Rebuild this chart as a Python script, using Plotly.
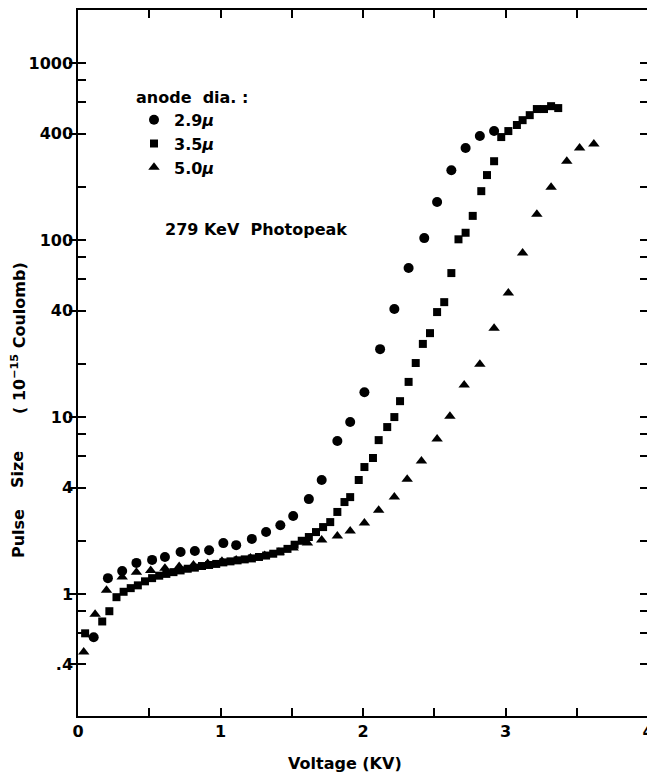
import plotly.graph_objects as go

# ---- data ----
circle_x = [0.11, 0.21, 0.31, 0.41, 0.52, 0.61, 0.72, 0.82, 0.92, 1.02, 1.11, 1.22, 1.32, 1.42,
            1.51, 1.62, 1.71, 1.82, 1.91, 2.01, 2.12, 2.22, 2.32, 2.43, 2.52, 2.62, 2.72, 2.82, 2.92]
circle_y = [0.57, 1.23, 1.35, 1.50, 1.56, 1.62, 1.73, 1.75, 1.77, 1.94, 1.89, 2.05, 2.24, 2.45,
            2.76, 3.44, 4.41, 7.32, 9.37, 13.8, 24.2, 40.8, 69.5, 102.6, 164, 248, 331, 387, 413]

square_x = [0.05, 0.17, 0.22, 0.27, 0.32, 0.37, 0.42, 0.47, 0.52, 0.57, 0.62, 0.67, 0.72, 0.77,
            0.82, 0.87, 0.92, 0.97, 1.02, 1.07, 1.12, 1.17, 1.22, 1.27, 1.32, 1.37, 1.42, 1.47,
            1.52, 1.57, 1.62, 1.67, 1.72, 1.77, 1.82, 1.87, 1.91, 1.97, 2.01, 2.07, 2.11, 2.17,
            2.22, 2.26, 2.32, 2.37, 2.42, 2.47, 2.52, 2.57, 2.62, 2.67, 2.72, 2.77, 2.83, 2.87,
            2.92, 2.97, 3.02, 3.08, 3.12, 3.17, 3.22, 3.27, 3.32, 3.37]
square_y = [0.60, 0.70, 0.80, 0.96, 1.03, 1.08, 1.12, 1.18, 1.23, 1.27, 1.30, 1.33, 1.36, 1.39,
            1.41, 1.44, 1.46, 1.48, 1.51, 1.53, 1.55, 1.57, 1.59, 1.62, 1.65, 1.69, 1.74, 1.80,
            1.90, 2.00, 2.10, 2.24, 2.39, 2.55, 2.91, 3.31, 3.53, 4.41, 5.22, 5.87, 7.41, 8.78,
            10.0, 12.3, 15.8, 20.2, 25.9, 29.8, 39.2, 44.6, 65.1, 101, 110, 137, 189, 233,
            279, 382, 413, 447, 476, 508, 550, 550, 571, 557]

triangle_x = [0.04, 0.12, 0.20, 0.31, 0.41, 0.51, 0.61, 0.71, 0.81, 0.91, 1.01, 1.11, 1.21, 1.31,
              1.41, 1.51, 1.61, 1.71, 1.82, 1.91, 2.01, 2.11, 2.22, 2.31, 2.41, 2.52, 2.61, 2.71,
              2.82, 2.92, 3.02, 3.12, 3.22, 3.32, 3.43, 3.52, 3.62]
triangle_y = [0.47, 0.77, 1.05, 1.25, 1.33, 1.36, 1.40, 1.43, 1.46, 1.49, 1.53, 1.56, 1.60, 1.65,
              1.72, 1.82, 1.94, 2.02, 2.13, 2.27, 2.52, 2.98, 3.53, 4.46, 5.64, 7.51, 10.1, 15.2,
              19.9, 31.8, 50.2, 84.5, 140, 199, 279, 331, 349]

series_names = ["2.9<i>μ</i>", "3.5<i>μ</i>", "5.0<i>μ</i>"]

x_tickvals = [0, 0.5, 1, 1.5, 2, 2.5, 3, 3.5, 4]
x_ticktext = ["0", " ", "1", " ", "2", " ", "3", " ", "4"]
y_tickvals = [0.4, 0.6, 0.8, 1, 2, 4, 6, 8, 10, 20, 40, 60, 80, 100, 200, 400, 600, 800, 1000]
y_ticktext = [".4", " ", " ", "1", " ", "4", " ", " ", "10", " ", "40", " ", " ", "100", " ", "400", " ", " ", "1000"]
y_labeled = [0.4, 1, 4, 10, 40, 100, 400, 1000]

FONT = "DejaVu Sans"

fig = go.Figure()
fig.add_trace(go.Scatter(x=circle_x, y=circle_y, mode="markers", name=series_names[0],
                         marker=dict(symbol="circle", size=10, color="black")))
fig.add_trace(go.Scatter(x=square_x, y=square_y, mode="markers", name=series_names[1],
                         marker=dict(symbol="square", size=8, color="black")))
fig.add_trace(go.Scatter(x=triangle_x, y=triangle_y, mode="markers", name=series_names[2],
                         marker=dict(symbol="triangle-up", size=10, color="black")))
# empty helper trace so the overlay axis (outer halves of labelled ticks) is drawn
fig.add_trace(go.Scatter(x=[], y=[], yaxis="y2", showlegend=False, hoverinfo="skip"))

yr = [-0.689, 3.30]

# the page body has an 8px margin, so the figure is laid out in page coords minus 8
OFF = 8
W, H = 655 - OFF, 775 - OFF
L, T = 78 - OFF, 10 - OFF
R = W - (648 - OFF)
B = H - (716 - OFF)
pw, ph = W - L - R, H - T - B


def px(xp):
    return (xp - OFF - L) / pw


def py(yp):
    return (H - B - (yp - OFF)) / ph


fig.update_layout(
    width=W, height=H,
    margin=dict(l=L, r=R, t=T, b=B, autoexpand=False),
    paper_bgcolor="white", plot_bgcolor="white",
    font=dict(family=FONT, size=15, color="black", weight="bold"),
    xaxis=dict(range=[0, 4], tickvals=x_tickvals, ticktext=x_ticktext,
               ticks="inside", ticklen=8, tickwidth=1.5, tickcolor="black",
               showline=True, linecolor="black", linewidth=1.5, mirror="ticks",
               showgrid=False, zeroline=False,
               tickfont=dict(family=FONT, size=16, color="black", weight="bold")),
    yaxis=dict(type="log", range=yr, tickvals=y_tickvals, ticktext=y_ticktext,
               ticks="inside", ticklen=8, tickwidth=1.5, tickcolor="black",
               showline=True, linecolor="black", linewidth=1.5, mirror="ticks",
               showgrid=False, zeroline=False,
               tickfont=dict(family=FONT, size=16, color="black", weight="bold")),
    yaxis2=dict(type="log", range=yr, overlaying="y", side="left", anchor="x",
                tickvals=y_labeled, showticklabels=False,
                ticks="outside", ticklen=8, tickwidth=1.5, tickcolor="black",
                showline=False, showgrid=False, zeroline=False),
    showlegend=True,
    legend=dict(x=px(134), y=py(82), xanchor="left", yanchor="top",
                bgcolor="rgba(0,0,0,0)", borderwidth=0,
                title=dict(text="anode  dia. :", font=dict(family=FONT, size=16, color="black", weight="bold")),
                font=dict(family=FONT, size=16, color="black", weight="bold"),
                itemwidth=30, tracegroupgap=0),
)

annotations = [
    dict(text="279 KeV  Photopeak", x=px(256), y=py(230)),
    dict(text="Voltage (KV)", x=px(345), y=py(763)),
    dict(text="Pulse", x=px(18), y=py(534), textangle=-90),
    dict(text="Size", x=px(18), y=py(470), textangle=-90),
    dict(text="( 10<sup>−15</sup> Coulomb)", x=px(18), y=py(338), textangle=-90),
]
for a in annotations:
    fig.add_annotation(xref="paper", yref="paper", showarrow=False,
                       xanchor="center", yanchor="middle",
                       font=dict(family=FONT, size=16, color="black", weight="bold"), **a)

fig.write_html("out.html")
